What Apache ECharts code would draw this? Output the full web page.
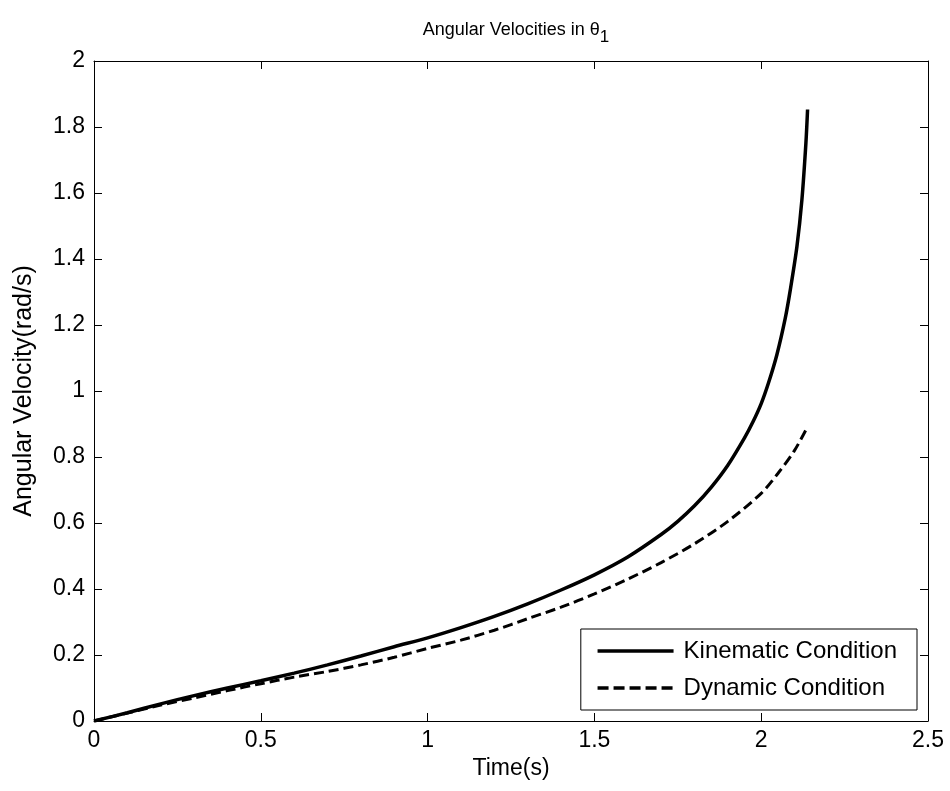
<!DOCTYPE html>
<html>
<head>
<meta charset="utf-8">
<script src="https://cdn.jsdelivr.net/npm/echarts@6/dist/echarts.min.js"></script>
<style>
html,body{margin:0;padding:0;background:#fff;}
#chart{width:950px;height:791px;}
</style>
</head>
<body>
<div id="chart"></div>
<script>
var kinT = [0, 0.1, 0.2, 0.3, 0.4, 0.5, 0.6, 0.7, 0.8, 0.9, 1.0, 1.1, 1.2, 1.3, 1.4, 1.5, 1.6, 1.7, 1.75, 1.8, 1.85, 1.9, 1.95, 1.975, 2.0, 2.022, 2.047, 2.072, 2.087, 2.107, 2.122, 2.134, 2.139];
var kinV = [0, 0.025, 0.052, 0.077, 0.1, 0.122, 0.145, 0.17, 0.197, 0.225, 0.252, 0.283, 0.317, 0.355, 0.397, 0.443, 0.497, 0.565, 0.605, 0.652, 0.708, 0.775, 0.858, 0.906, 0.962, 1.025, 1.11, 1.22, 1.305, 1.437, 1.579, 1.751, 1.853];
var dynT = [0, 0.1, 0.2, 0.3, 0.4, 0.5, 0.6, 0.7, 0.8, 0.9, 1.0, 1.1, 1.2, 1.3, 1.4, 1.5, 1.6, 1.7, 1.8, 1.9, 2.0, 2.05, 2.1, 2.139];
var dynV = [0, 0.024, 0.048, 0.07, 0.092, 0.113, 0.133, 0.15, 0.17, 0.193, 0.22, 0.245, 0.275, 0.31, 0.345, 0.385, 0.43, 0.48, 0.537, 0.605, 0.69, 0.75, 0.82, 0.892];
var seriesNames = ['Kinematic Condition', 'Dynamic Condition'];
var titleText = 'Angular Velocities in θ';
var titleSub = '1';
var xName = 'Time(s)';
var yName = 'Angular Velocity(rad/s)';

function pairs(t, v){ return t.map(function(x,i){ return [x, v[i]]; }); }

var FONT = 'Liberation Sans, Arial, sans-serif';
var chart = echarts.init(document.getElementById('chart'), null, {renderer:'canvas'});
var axLine = {show:true, onZero:false, lineStyle:{color:'#000', width:1}};
var axTick = {show:true, inside:true, length:8, lineStyle:{color:'#000', width:1}};
chart.setOption({
  animation:false,
  backgroundColor:'#fff',
  title:{
    text:'{a|' + titleText + '}{s|' + titleSub + '}',
    left:511, textAlign:'center', top:12,
    textStyle:{rich:{
      a:{fontFamily:FONT, fontSize:18, fontWeight:'normal', color:'#000', verticalAlign:'bottom', lineHeight:22},
      s:{fontFamily:FONT, fontSize:17, fontWeight:'normal', color:'#000', verticalAlign:'bottom', lineHeight:14, padding:[0,0,-7,0]}
    }}
  },
  grid:{left:94, right:22, top:61, bottom:70, containLabel:false},
  legend:{
    orient:'vertical', right:33, bottom:81,
    data:[
      {name:seriesNames[0], lineStyle:{width:3.5, type:'solid'}},
      {name:seriesNames[1], lineStyle:{width:3.5, type:[11,5]}}
    ],
    backgroundColor:'#fff', borderColor:'#000', borderWidth:1,
    padding:[10,20,10,15], itemGap:13,
    itemWidth:76, itemHeight:24,
    itemStyle:{opacity:0},
    textStyle:{fontFamily:FONT, fontSize:24, color:'#000', padding:[0,0,0,5]}
  },
  xAxis:[
    {type:'value', min:0, max:2.5, interval:0.5, position:'bottom',
      name:xName, nameLocation:'middle', nameGap:34,
      nameTextStyle:{color:'#000', fontFamily:FONT, fontSize:23},
      axisLine:axLine, axisTick:axTick, splitLine:{show:false},
      axisLabel:{color:'#000', fontFamily:FONT, fontSize:23, margin:8}},
    {type:'value', min:0, max:2.5, interval:0.5, position:'top',
      axisLine:axLine, axisTick:axTick, splitLine:{show:false}, axisLabel:{show:false}}
  ],
  yAxis:[
    {type:'value', min:0, max:2, interval:0.2, position:'left',
      name:yName, nameLocation:'middle', nameGap:57,
      nameTextStyle:{color:'#000', fontFamily:FONT, fontSize:25},
      axisLine:axLine, axisTick:axTick, splitLine:{show:false},
      axisLabel:{color:'#000', fontFamily:FONT, fontSize:23, margin:9}},
    {type:'value', min:0, max:2, interval:0.2, position:'right',
      axisLine:axLine, axisTick:axTick, splitLine:{show:false}, axisLabel:{show:false}}
  ],
  series:[
    {name:seriesNames[0], type:'line', data:pairs(kinT, kinV), smooth:0.3, symbol:'none',
      lineStyle:{color:'#000', width:3.5, type:'solid'}, itemStyle:{color:'#000'}},
    {name:seriesNames[1], type:'line', data:pairs(dynT, dynV), smooth:0.3, symbol:'none',
      lineStyle:{color:'#000', width:3, type:[10,5]}, itemStyle:{color:'#000'}}
  ]
});
</script>
</body>
</html>
